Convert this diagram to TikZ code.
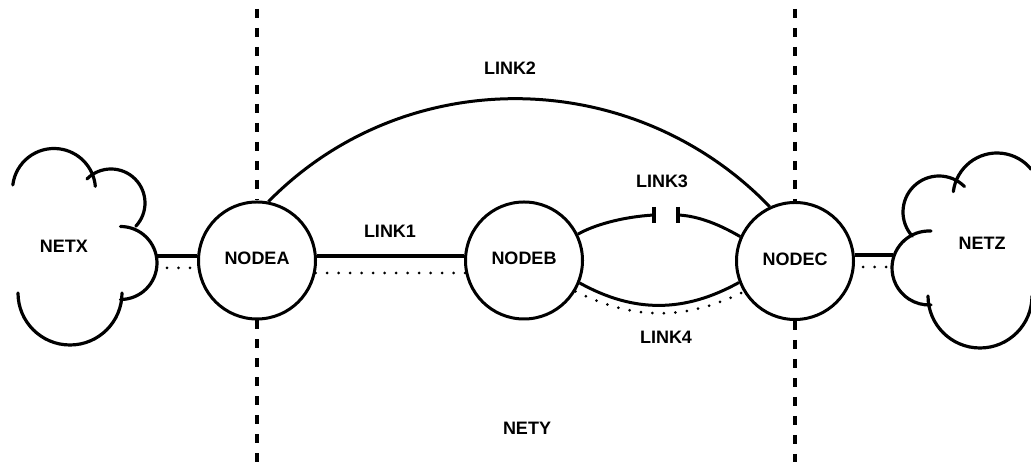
\documentclass[tikz,border=0pt]{standalone}
\usepackage{fontspec}
\setmainfont{Liberation Sans}
\tikzset{
  netnode/.style={circle,draw,line width=3pt,minimum size=117pt,inner sep=0pt,font=\fontsize{18}{20}\selectfont\bfseries},
  lbl/.style={inner sep=0pt,font=\fontsize{18}{20}\selectfont\bfseries},
  boundary/.style={line width=4pt,dash pattern=on 9pt off 10pt},
  linkline/.style={line width=3pt},
  thickline/.style={line width=3.6pt},
  dotline/.style={line width=3pt,line cap=round,dash pattern=on 0pt off 11.5pt},
  cloudline/.style={line width=3.2pt,line cap=round}
}
\begin{document}
\begin{tikzpicture}[x=1pt,y=1pt]
\useasboundingbox (0,0) rectangle (1031,462);
% nodes
\node[netnode] (nodea) at (257,201.5) {\raisebox{4pt}{NODEA}};
\node[netnode] (nodeb) at (524,201.5) {\raisebox{4pt}{NODEB}};
\node[netnode] (nodec) at (795,201) {\raisebox{3pt}{NODEC}};
\node[lbl] (netx) at (64,216) {NETX};
\node[lbl] (netz) at (982,219) {NETZ};
\node[lbl] (nety) at (527,34) {NETY};
\node[lbl] (l1) at (390,231) {LINK1};
\node[lbl] (l2) at (510,394) {LINK2};
\node[lbl] (l3) at (662,281) {LINK3};
\node[lbl] (l4) at (666,125) {LINK4};
% boundaries
\coordinate (bat) at (257,453);
\coordinate (bab) at (257,0);
\coordinate (bct) at (795,453);
\coordinate (bcb) at (795,0);
\draw[boundary] (bat) -- (nodea.north);
\draw[boundary] (nodea.south) -- (bab);
\draw[boundary] (bct) -- (nodec.north);
\draw[boundary] (nodec.south) -- (bcb);
% cloud X
\draw[cloudline] ([shift=(173:41.5)]54,272) arc (173:5:41.5);
\draw[cloudline] ([shift=(135:34)]111,259) arc (135:-43:34);
\draw[cloudline] ([shift=(90:36.5)]120.5,199) arc (90:-90:36.5);
\draw[cloudline] ([shift=(0:52)]70,169) arc (0:-180:52);
% cloud Z
\draw[cloudline] ([shift=(173:44)]997,265) arc (173:39:44);
\draw[cloudline] ([shift=(45:36)]939,250) arc (45:222:36);
\draw[cloudline] ([shift=(87:37)]929,194) arc (87:273:37);
\draw[cloudline] ([shift=(180:52)]980,166) arc (180:360:52);
% ports
\coordinate (xs) at (156,206);
\coordinate (xd1) at (167,194);
\coordinate (zs) at (893,207);
\coordinate (zd1) at (863,195);
\coordinate (xd2) at (191,194);
\coordinate (zd2) at (888,195);
% links
\draw[thickline] (xs) -- (nodea.west |- xs);
\draw[dotline] (xd1) -- (xd2);
\draw[thickline] (nodec.east |- zs) -- (zs);
\draw[dotline] (zd1) -- (zd2);
\draw[thickline] (nodea.east |- xs) -- (nodeb.west |- xs);
\draw[dotline] (nodea.-12) -- (nodeb.192);
\draw[linkline] (nodea.79.5) to[out=45.5,in=134] (nodec.115.3);
% link 3 with gap
\coordinate (g1) at (654,247);
\coordinate (g2) at (678,247);
\draw[linkline] (nodeb.26.6) .. controls (592,236) and (620,245) .. (g1);
\draw[linkline] (g2) .. controls (700,246) and (722,236) .. (nodec.156.4);
\draw[line width=3.6pt] ([yshift=8pt]g1) -- ([yshift=-8pt]g1);
\draw[line width=3.6pt] ([yshift=8pt]g2) -- ([yshift=-8pt]g2);
% link 4
\draw[linkline] (nodeb.-22) to[out=-29,in=209] (nodec.201.4);
\draw[dotline] (nodeb.-31.7) to[out=-26,in=206] (nodec.211);
\end{tikzpicture}
\end{document}
